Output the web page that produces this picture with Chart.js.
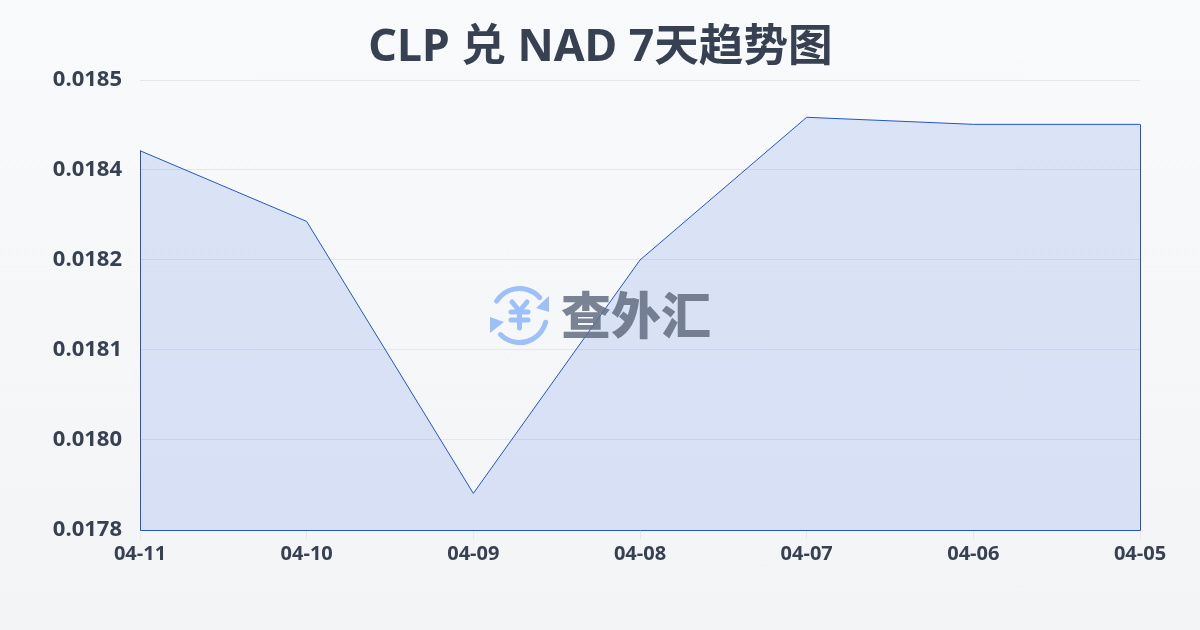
<!DOCTYPE html>
<html>
<head>
<meta charset="utf-8">
<script src="https://cdn.jsdelivr.net/npm/chart.js@4"></script>
<style>
    html, body { margin: 0; padding: 0; }
    body { width: 1200px; height: 630px; overflow: hidden; background: linear-gradient(180deg, #f9fafb 0%, #f3f4f6 100%); }
    canvas { display: block; }
</style>
</head>
<body>
<canvas id="rate-chart" width="1200" height="630"></canvas>
<script>
const titleText = "CLP 兑 NAD 7天趋势图";
const dates = ["04-11", "04-10", "04-09", "04-08", "04-07", "04-06", "04-05"];
const rates = [0.01841, 0.0183, 0.017877, 0.01824, 0.018462, 0.018451, 0.018451];
const yTicks = [0.01782, 0.01796, 0.0181, 0.01824, 0.01838, 0.01852];
const watermarkText = "查外汇";

const inkColor = "#374151";
const lineColor = "#2456c4";
const titleFont = '"Noto Sans", "Noto Sans CJK SC", sans-serif';
const cjkFont = '"Noto Sans CJK SC", "Noto Sans", sans-serif';

// title is centred on the whole picture, not on the plot
const pageTitle = {
    id: "pageTitle",
    afterDraw(chart) {
        const { ctx } = chart;
        ctx.save();
        ctx.fillStyle = inkColor;
        ctx.font = "bold 44.6px " + titleFont;
        ctx.textAlign = "center";
        ctx.textBaseline = "alphabetic";
        ctx.fillText(titleText, 600.5, 61);
        ctx.restore();
    },
};

// left, bottom and right edge of the filled area
const areaOutline = {
    id: "areaOutline",
    afterDatasetsDraw(chart) {
        const { ctx, scales } = chart;
        const points = chart.getDatasetMeta(0).data;
        const first = points[0];
        const last = points[points.length - 1];
        const base = scales.y.bottom + 0.5;
        ctx.save();
        ctx.strokeStyle = lineColor;
        ctx.lineWidth = 1;
        ctx.beginPath();
        ctx.moveTo(first.x + 0.5, first.y);
        ctx.lineTo(first.x + 0.5, base);
        ctx.lineTo(last.x + 0.5, base);
        ctx.lineTo(last.x + 0.5, last.y);
        ctx.stroke();
        ctx.restore();
    },
};

const watermark = {
    id: "watermark",
    afterDraw(chart) {
        const { ctx } = chart;
        const cx = 519.5, cy = 315.5, r = 27;
        const strokeLine = (x1, y1, x2, y2) => {
            ctx.beginPath();
            ctx.moveTo(x1, y1);
            ctx.lineTo(x2, y2);
            ctx.stroke();
        };
        const fillTriangle = (x1, y1, x2, y2, x3, y3) => {
            ctx.beginPath();
            ctx.moveTo(x1, y1);
            ctx.lineTo(x2, y2);
            ctx.lineTo(x3, y3);
            ctx.closePath();
            ctx.fill();
        };
        ctx.save();

        // logo: two round arrows around a yen sign
        ctx.strokeStyle = "#9cc0f8";
        ctx.fillStyle = "#9cc0f8";
        ctx.lineWidth = 5;
        ctx.lineCap = "round";
        ctx.beginPath();
        ctx.arc(cx, cy, r, Math.PI * 1.18, Math.PI * 1.77);
        ctx.stroke();
        ctx.beginPath();
        ctx.arc(cx, cy, r, Math.PI * 0.08, Math.PI * 0.75);
        ctx.stroke();
        fillTriangle(549, 312, 549, 296, 536, 308);
        fillTriangle(490, 317, 490, 333, 504, 322);

        strokeLine(512, 302, 519.5, 311);
        strokeLine(527, 302, 519.5, 311);
        strokeLine(511, 312, 528, 312);
        strokeLine(511, 320, 528, 320);
        strokeLine(519.5, 311, 519.5, 328);

        ctx.fillStyle = "rgba(100, 110, 130, 0.85)";
        ctx.font = "900 50px " + cjkFont;
        ctx.textAlign = "left";
        ctx.textBaseline = "middle";
        ctx.fillText(watermarkText, 561, 315);
        ctx.restore();
    },
};

new Chart(document.getElementById("rate-chart"), {
    type: "line",
    data: {
        labels: dates,
        datasets: [
            {
                data: rates,
                borderColor: lineColor,
                borderWidth: 1,
                backgroundColor: "rgba(30, 90, 225, 0.135)",
                fill: "origin",
                tension: 0,
                pointRadius: 0,
            },
        ],
    },
    options: {
        responsive: false,
        animation: false,
        layout: { padding: { top: 80, right: 60, bottom: 0, left: 0 } },
        plugins: {
            legend: { display: false },
            tooltip: { enabled: false },
        },
        scales: {
            x: {
                offset: false,
                grid: { drawOnChartArea: false, drawTicks: true, tickLength: 9, color: "#e5e7eb" },
                border: { display: false },
                ticks: {
                    color: inkColor,
                    font: { family: '"Open Sans", sans-serif', size: 20, weight: "bold" },
                    padding: 3,
                    maxRotation: 0,
                    autoSkip: false,
                },
                afterFit(scale) { scale.height = 100; },
            },
            y: {
                min: yTicks[0],
                max: yTicks[yTicks.length - 1],
                afterBuildTicks(scale) { scale.ticks = yTicks.map((v) => ({ value: v })); },
                grid: { color: "#e5e7eb", drawTicks: false },
                border: { display: false },
                ticks: {
                    color: inkColor,
                    font: { family: '"Open Sans", sans-serif', size: 22, weight: "bold" },
                    padding: 18,
                    callback: (v) => v.toFixed(4),
                },
                afterFit(scale) { scale.width = 140; },
            },
        },
    },
    plugins: [pageTitle, areaOutline, watermark],
});
</script>
</body>
</html>
